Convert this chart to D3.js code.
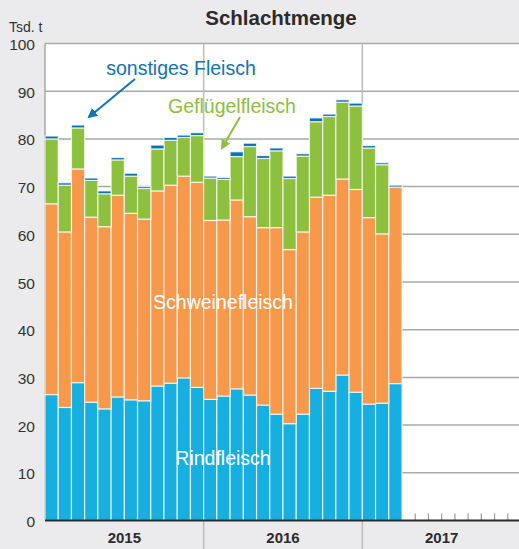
<!DOCTYPE html>
<html>
<head>
<meta charset="utf-8">
<script src="https://cdn.jsdelivr.net/npm/d3@7"></script>
<style>
  body { margin: 0; background: #ebebed; }
  svg { display: block; font-family: "Liberation Sans", Arial, sans-serif; }
</style>
</head>
<body>
<div id="chart"></div>
<script>
// Schlachtmenge in Tsd. t, monthly Jan 2015 .. Mar 2017
var years = ["2015", "2016", "2017"];
var rind = [26.4, 23.7, 28.9, 24.8, 23.4, 25.9, 25.3, 25.1, 28.2, 28.8, 29.9, 27.9,
            25.4, 26.1, 27.6, 26.3, 24.2, 22.3, 20.3, 22.3, 27.7, 27.1, 30.5, 26.9,
            24.4, 24.6, 28.7];
var schwein = [40.0, 36.8, 44.8, 38.8, 38.2, 42.3, 39.1, 38.1, 40.9, 41.5, 42.3, 43.0,
               37.5, 36.9, 39.6, 37.4, 37.2, 39.1, 36.5, 38.2, 40.1, 41.1, 41.1, 42.5,
               39.1, 35.5, 41.2];
var gefluegel = [13.6, 9.8, 8.6, 7.7, 6.9, 7.4, 7.8, 6.4, 8.8, 9.4, 8.1, 9.8,
                 8.9, 8.5, 9.1, 14.7, 14.5, 16.1, 14.9, 15.9, 15.8, 16.5, 16.1, 17.5,
                 14.6, 14.5, 0];
var sonstige = [0.6, 0.5, 0.6, 0.5, 0.6, 0.5, 0.6, 0.4, 0.8, 0.6, 0.5, 0.6,
                0.4, 0.4, 1.0, 0.7, 0.6, 0.6, 0.5, 0.5, 0.8, 0.5, 0.5, 0.6,
                0.5, 0.4, 0.4];
var yTicks = [0, 10, 20, 30, 40, 50, 60, 70, 80, 90, 100];

var keys = ["rind", "schwein", "gefluegel", "sonstige"];
var colors = { rind: "#17afe0", schwein: "#f7994a", gefluegel: "#8dc03f", sonstige: "#0a73b2" };

var width = 519, height = 549;
var months = d3.range(years.length * 12);
var rows = rind.map(function(d, i) {
  return { m: i, rind: d, schwein: schwein[i], gefluegel: gefluegel[i], sonstige: sonstige[i] };
});

var x = d3.scaleBand().domain(months).range([45, 521]).padding(0);
var y = d3.scaleLinear().domain([0, 100]).range([520.5, 43.5]);

var svg = d3.select("#chart").append("svg")
  .attr("width", width)
  .attr("height", height);

// plot area
svg.append("rect")
  .attr("x", 45).attr("y", y(100))
  .attr("width", width - 45).attr("height", y(0) - y(100))
  .attr("fill", "#fff");

// gridlines
svg.append("g").selectAll("line")
  .data(yTicks.filter(function(d) { return d > 0; }))
  .enter().append("line")
  .attr("x1", 45).attr("x2", width)
  .attr("y1", function(d) { return y(d); })
  .attr("y2", function(d) { return y(d); })
  .attr("stroke", "#a9a9a9")
  .attr("stroke-width", 1.5);

// year separators
var yearX = function(i) { return x(i * 12); };
svg.append("g").selectAll("line")
  .data([1, 2])
  .enter().append("line")
  .attr("x1", yearX).attr("x2", yearX)
  .attr("y1", y(100)).attr("y2", height)
  .attr("stroke", "#bdbdbd")
  .attr("stroke-width", 1.5);

// left border
svg.append("line")
  .attr("x1", 45).attr("x2", 45)
  .attr("y1", y(100)).attr("y2", y(0))
  .attr("stroke", "#a9a9a9")
  .attr("stroke-width", 1.5);

// stacked bars
var series = d3.stack().keys(keys)(rows);
svg.append("g").selectAll("g")
  .data(series)
  .enter().append("g")
  .attr("fill", function(d) { return colors[d.key]; })
  .selectAll("rect")
  .data(function(d) { return d.filter(function(p) { return p[1] - p[0] > 0; }); })
  .enter().append("rect")
  .attr("x", function(d) { return x(d.data.m); })
  .attr("width", x.bandwidth())
  .attr("y", function(d) { return y(d[1]); })
  .attr("height", function(d) { return y(d[0]) - y(d[1]); })
  .attr("stroke", "rgba(255,255,255,0.75)")
  .attr("stroke-width", 1.2);

// month ticks (only visible where there are no bars)
svg.append("g").selectAll("line")
  .data(months.slice(rind.length + 1))
  .enter().append("line")
  .attr("x1", function(d) { return x(d); })
  .attr("x2", function(d) { return x(d); })
  .attr("y1", y(0) - 7).attr("y2", y(0))
  .attr("stroke", "#999")
  .attr("stroke-width", 1.2);

// x axis line
svg.append("line")
  .attr("x1", 45).attr("x2", width)
  .attr("y1", y(0)).attr("y2", y(0))
  .attr("stroke", "#2b2b2b")
  .attr("stroke-width", 2);

// y labels
svg.append("g").selectAll("text")
  .data(yTicks)
  .enter().append("text")
  .attr("x", 35)
  .attr("y", function(d) { return y(d) + 6.5; })
  .attr("text-anchor", "end")
  .attr("fill", "#333")
  .style("font-size", "15.5px")
  .text(function(d) { return d; });

svg.append("text")
  .attr("x", 9).attr("y", 31.5)
  .attr("fill", "#333")
  .style("font-size", "14px")
  .text("Tsd. t");

// year labels
svg.append("g").selectAll("text")
  .data(years)
  .enter().append("text")
  .attr("x", function(d, i) { return x(i * 12) + x.bandwidth() * 6; })
  .attr("y", 543)
  .attr("text-anchor", "middle")
  .attr("fill", "#2b2b2b")
  .style("font-size", "15px")
  .style("font-weight", "bold")
  .text(function(d) { return d; });

// title
svg.append("text")
  .attr("x", 281).attr("y", 25)
  .attr("text-anchor", "middle")
  .attr("fill", "#2b2b2b")
  .style("font-size", "20.5px")
  .style("font-weight", "bold")
  .text("Schlachtmenge");

// series labels
svg.append("text")
  .attr("x", 181).attr("y", 75)
  .attr("text-anchor", "middle")
  .attr("fill", "#1273b5")
  .style("font-size", "19.5px")
  .text("sonstiges Fleisch");

svg.append("text")
  .attr("x", 232).attr("y", 113)
  .attr("text-anchor", "middle")
  .attr("fill", "#8dc03f")
  .style("font-size", "19.5px")
  .text("Geflügelfleisch");

svg.append("text")
  .attr("x", 223).attr("y", 309)
  .attr("text-anchor", "middle")
  .attr("fill", "#fff")
  .style("font-size", "19.5px")
  .text("Schweinefleisch");

svg.append("text")
  .attr("x", 223).attr("y", 465)
  .attr("text-anchor", "middle")
  .attr("fill", "#fff")
  .style("font-size", "19.5px")
  .text("Rindfleisch");

// arrows
var defs = svg.append("defs");
[["arrBlue", "#1273b5"], ["arrGreen", "#8dc03f"]].forEach(function(a) {
  defs.append("marker")
    .attr("id", a[0])
    .attr("viewBox", "0 0 10 10")
    .attr("refX", 8).attr("refY", 5)
    .attr("markerWidth", 5).attr("markerHeight", 5)
    .attr("orient", "auto")
    .append("path")
    .attr("d", "M0,0 L10,5 L0,10 z")
    .attr("fill", a[1]);
});

svg.append("line")
  .attr("x1", 135).attr("y1", 79)
  .attr("x2", 89).attr("y2", 117)
  .attr("stroke", "#1273b5")
  .attr("stroke-width", 2)
  .attr("marker-end", "url(#arrBlue)");

svg.append("line")
  .attr("x1", 240).attr("y1", 117)
  .attr("x2", 222).attr("y2", 148)
  .attr("stroke", "#8dc03f")
  .attr("stroke-width", 2)
  .attr("marker-end", "url(#arrGreen)");
</script>
</body>
</html>
